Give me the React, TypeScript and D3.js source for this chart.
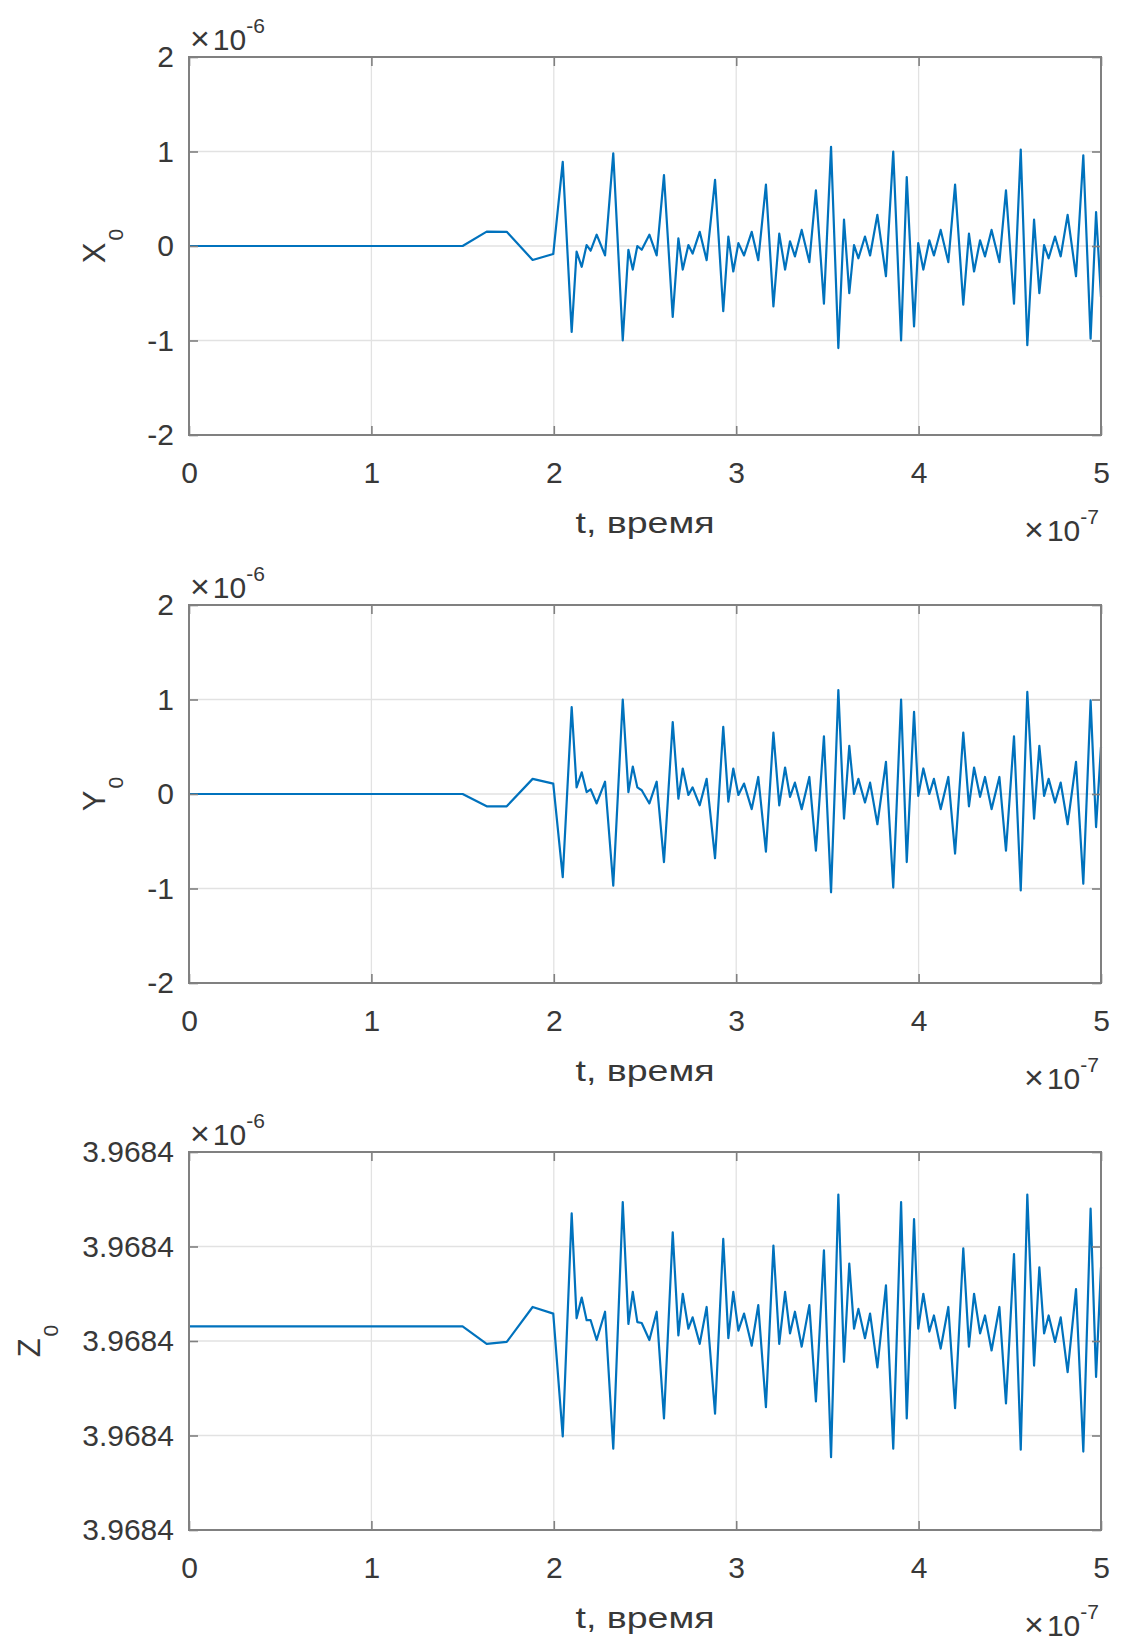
import React, { useEffect, useRef } from 'react';
import * as d3 from 'd3';

const width = 1122;
const height = 1642;
const margin = { left: 189, right: 21 };
const panelTops = [57, 605, 1152];
const panelHeight = 378;
const font = "'Liberation Sans', Arial, Helvetica, sans-serif";
const lineColor = '#0072bd';

// time, units of 1e-7 s
const tValues = [
  0, 1.5, 1.632, 1.742, 1.884, 1.997, 2.049, 2.098, 2.125, 2.153, 2.18, 2.202, 2.235, 2.281,
  2.326, 2.378, 2.409, 2.433, 2.458, 2.482, 2.524, 2.564, 2.604, 2.652, 2.683, 2.707, 2.738,
  2.761, 2.8, 2.838, 2.884, 2.929, 2.957, 2.984, 3.012, 3.043, 3.085, 3.121, 3.163, 3.204,
  3.236, 3.268, 3.295, 3.322, 3.359, 3.401, 3.437, 3.481, 3.52, 3.56, 3.591, 3.62, 3.646,
  3.67, 3.706, 3.734, 3.774, 3.821, 3.861, 3.904, 3.935, 3.975, 3.998, 4.026, 4.059, 4.084,
  4.121, 4.163, 4.2, 4.245, 4.276, 4.304, 4.337, 4.364, 4.4, 4.443, 4.479, 4.523, 4.56,
  4.596, 4.633, 4.662, 4.688, 4.713, 4.748, 4.779, 4.817, 4.863, 4.903, 4.943, 4.973, 5.0
];

// X0, units of 1e-6
const xValues = [
  0, 0, 0.152, 0.15, -0.148, -0.085, 0.89, -0.91, -0.06, -0.22, 0.01, -0.05, 0.12, -0.1,
  0.98, -1.0, -0.04, -0.25, 0, -0.04, 0.12, -0.1, 0.75, -0.75, 0.08, -0.25, 0.01,
  -0.08, 0.15, -0.15, 0.7, -0.69, 0.1, -0.27, 0.03, -0.1, 0.15, -0.15, 0.65, -0.64,
  0.13, -0.25, 0.05, -0.11, 0.17, -0.17, 0.59, -0.61, 1.05, -1.08, 0.28, -0.5, 0.01,
  -0.13, 0.1, -0.1, 0.33, -0.32, 1.0, -1.0, 0.73, -0.85, 0.03, -0.25, 0.06, -0.1,
  0.17, -0.17, 0.65, -0.62, 0.13, -0.27, 0.06, -0.11, 0.17, -0.17, 0.59, -0.61, 1.02,
  -1.05, 0.28, -0.5, 0.01, -0.13, 0.1, -0.11, 0.33, -0.32, 0.96, -0.98, 0.36, -0.54
];

// Y0, units of 1e-6
const yValues = [
  0, 0, -0.13, -0.13, 0.16, 0.11, -0.88, 0.92, 0.07, 0.23, 0.02, 0.05, -0.1, 0.13,
  -0.97, 1.0, 0.02, 0.29, 0.07, 0.04, -0.1, 0.13, -0.72, 0.76, -0.05, 0.27, -0.01,
  0.07, -0.12, 0.16, -0.68, 0.71, -0.08, 0.27, -0.01, 0.11, -0.16, 0.18, -0.61, 0.65,
  -0.12, 0.28, -0.03, 0.12, -0.16, 0.18, -0.6, 0.61, -1.04, 1.1, -0.26, 0.51, 0,
  0.16, -0.09, 0.12, -0.32, 0.34, -0.99, 1.0, -0.72, 0.87, -0.02, 0.27, 0, 0.16,
  -0.16, 0.18, -0.63, 0.65, -0.13, 0.28, -0.03, 0.18, -0.16, 0.18, -0.6, 0.61, -1.02,
  1.08, -0.26, 0.51, -0.02, 0.16, -0.09, 0.12, -0.32, 0.34, -0.95, 0.99, -0.35, 0.5
];

// Z0 offsets from 3.9684e-6, in steps of 1e-11 (one tick step)
const zOffsets = [
  0.155, 0.155, -0.03, -0.01, 0.36, 0.29, -1.01, 1.35, 0.24, 0.46, 0.22, 0.22, 0.01, 0.31,
  -1.14, 1.47, 0.18, 0.52, 0.2, 0.19, 0.01, 0.31, -0.82, 1.15, 0.06, 0.5, 0.13,
  0.25, -0.03, 0.36, -0.77, 1.08, 0.03, 0.52, 0.11, 0.29, -0.05, 0.38, -0.7, 1.01,
  -0.03, 0.52, 0.08, 0.31, -0.06, 0.38, -0.64, 0.96, -1.23, 1.55, -0.22, 0.82, 0.13,
  0.34, 0.03, 0.29, -0.28, 0.59, -1.14, 1.47, -0.82, 1.29, 0.13, 0.5, 0.1, 0.27,
  -0.08, 0.36, -0.71, 0.98, -0.06, 0.5, 0.08, 0.27, -0.1, 0.36, -0.66, 0.92, -1.15,
  1.55, -0.26, 0.78, 0.08, 0.27, -0.01, 0.25, -0.33, 0.55, -1.17, 1.4, -0.38, 0.78
];
const zBase = 3.9684;
const zStep = 1e-5;
const zValues = zOffsets.map(d => zBase + d * zStep);

const tTicks = [0, 1, 2, 3, 4, 5];
const xyTicks = [-2, -1, 0, 1, 2];
const zTicks = [-2, -1, 0, 1, 2].map(k => zBase + k * zStep);

const panels = [
  { name: 'X', values: xValues, ticks: xyTicks, fmt: (d: number) => String(d), labelX: 105 },
  { name: 'Y', values: yValues, ticks: xyTicks, fmt: (d: number) => String(d), labelX: 105 },
  { name: 'Z', values: zValues, ticks: zTicks, fmt: (d: number) => d.toFixed(4), labelX: 40 }
];

export default function App() {
  const ref = useRef<SVGSVGElement>(null);

  useEffect(() => {
    const svg = d3.select(ref.current);
    svg.selectAll('*').remove();
    const x = d3.scaleLinear([0, 5], [margin.left, width - margin.right]);

    panels.forEach((p, k) => {
      const top = panelTops[k];
      const bottom = top + panelHeight;
      const y = d3.scaleLinear([p.ticks[0], p.ticks[p.ticks.length - 1]], [bottom, top]);
      const g = svg.append('g');

      // grid
      g.append('g').selectAll('line').data(tTicks.slice(1, -1)).join('line')
        .attr('x1', d => x(d)).attr('x2', d => x(d))
        .attr('y1', top).attr('y2', bottom)
        .attr('stroke', '#e2e2e2').attr('stroke-width', 1.3);
      g.append('g').selectAll('line').data(p.ticks.slice(1, -1)).join('line')
        .attr('x1', x(0)).attr('x2', x(5))
        .attr('y1', d => y(d)).attr('y2', d => y(d))
        .attr('stroke', '#e2e2e2').attr('stroke-width', 1.3);

      // signal
      const line = d3.line<number>().x(i => x(tValues[i])).y(i => y(p.values[i]));
      g.append('path')
        .attr('d', line(d3.range(tValues.length)))
        .attr('fill', 'none').attr('stroke', lineColor).attr('stroke-width', 2.2)
        .attr('stroke-linejoin', 'round');

      const styleAxis = (a: any) => {
        a.select('.domain').remove();
        a.selectAll('.tick line').attr('stroke', '#808080').attr('stroke-width', 1.6);
        a.selectAll('text').attr('font-family', font).attr('font-size', 30).attr('fill', '#383838');
      };

      g.append('g').attr('transform', `translate(0,${bottom})`)
        .call(d3.axisBottom(x).tickValues(tTicks).tickSize(-9).tickPadding(27).tickFormat(d3.format('d')))
        .call(styleAxis);
      g.append('g').attr('transform', `translate(0,${top})`)
        .call(d3.axisTop(x).tickValues(tTicks).tickSize(-9).tickFormat(() => ''))
        .call(styleAxis);
      g.append('g').attr('transform', `translate(${margin.left},0)`)
        .call(d3.axisLeft(y).tickValues(p.ticks).tickSize(-9).tickPadding(15).tickFormat(d => p.fmt(+d)))
        .call(styleAxis);
      g.append('g').attr('transform', `translate(${width - margin.right},0)`)
        .call(d3.axisRight(y).tickValues(p.ticks).tickSize(-9).tickFormat(() => ''))
        .call(styleAxis);

      g.append('rect')
        .attr('x', x(0)).attr('y', top).attr('width', x(5) - x(0)).attr('height', panelHeight)
        .attr('fill', 'none').attr('stroke', '#808080').attr('stroke-width', 2);

      // labels
      g.append('text')
        .attr('x', (x(0) + x(5)) / 2).attr('y', bottom + 98)
        .attr('text-anchor', 'middle').attr('font-family', font).attr('font-size', 30).attr('fill', '#383838')
        .attr('textLength', 139).attr('lengthAdjust', 'spacingAndGlyphs')
        .text('t, время');

      const yl = g.append('text')
        .attr('transform', `translate(${p.labelX},${(top + bottom) / 2}) rotate(-90)`)
        .attr('text-anchor', 'middle').attr('font-family', font).attr('font-size', 31).attr('fill', '#383838');
      yl.append('tspan').text(p.name);
      yl.append('tspan').attr('font-size', 21).attr('dy', 18).attr('dx', 2).text('0');

      const ey = g.append('text')
        .attr('x', x(0) + 1).attr('y', top - 7)
        .attr('font-family', font).attr('font-size', 30).attr('fill', '#383838');
      ey.append('tspan').attr('font-size', 34).text('×');
      ey.append('tspan').attr('dx', 3).text('10');
      ey.append('tspan').attr('font-size', 21).attr('dy', -17).text('-6');

      const ex = g.append('text')
        .attr('x', x(5) - 2).attr('y', bottom + 106).attr('text-anchor', 'end')
        .attr('font-family', font).attr('font-size', 30).attr('fill', '#383838');
      ex.append('tspan').attr('font-size', 34).text('×');
      ex.append('tspan').attr('dx', 3).text('10');
      ex.append('tspan').attr('font-size', 21).attr('dy', -17).text('-7');
    });
  }, []);

  return (
    <svg ref={ref} width={width} height={height} viewBox={`0 0 ${width} ${height}`}
      style={{ position: 'absolute', left: 0, top: 0, background: '#fff' }} />
  );
}
